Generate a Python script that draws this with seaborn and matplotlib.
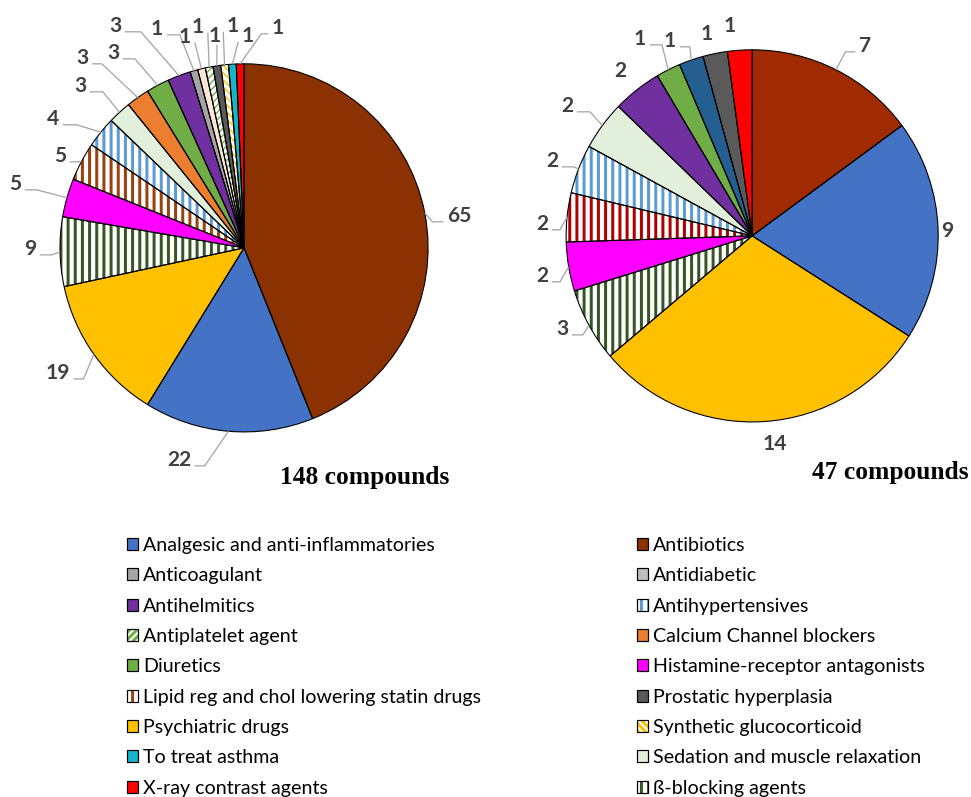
import matplotlib
matplotlib.use("Agg")
import numpy as np
import matplotlib.pyplot as plt
import seaborn as sns
from matplotlib.patches import Patch
from matplotlib.legend_handler import HandlerTuple

# ---------------------------------------------------------------- data
left_classes = [
    "Antibiotics", "Analgesic and anti-inflammatories", "Psychiatric drugs",
    "ß-blocking agents", "Histamine-receptor antagonists",
    "Lipid reg and chol lowering statin drugs", "Antihypertensives",
    "Sedation and muscle relaxation", "Calcium Channel blockers", "Diuretics",
    "Antihelmitics", "Anticoagulant", "Antidiabetic", "Antiplatelet agent",
    "Prostatic hyperplasia", "Synthetic glucocorticoid", "To treat asthma",
    "X-ray contrast agents",
]
left_counts = [65, 22, 19, 9, 5, 5, 4, 3, 3, 3, 3, 1, 1, 1, 1, 1, 1, 1]
left_title = "148 compounds"

right_classes = [
    "Antibiotics", "Analgesic and anti-inflammatories", "Psychiatric drugs",
    "ß-blocking agents", "Histamine-receptor antagonists",
    "Lipid reg and chol lowering statin drugs", "Antihypertensives",
    "Sedation and muscle relaxation", "Antihelmitics", "Diuretics",
    "Antidiabetic", "Prostatic hyperplasia", "X-ray contrast agents",
]
right_counts = [7, 9, 14, 3, 2, 2, 2, 2, 2, 1, 1, 1, 1]
right_title = "47 compounds"

legend_col1 = [
    "Analgesic and anti-inflammatories", "Anticoagulant", "Antihelmitics",
    "Antiplatelet agent", "Diuretics", "Lipid reg and chol lowering statin drugs",
    "Psychiatric drugs", "To treat asthma", "X-ray contrast agents",
]
legend_col2 = [
    "Antibiotics", "Antidiabetic", "Antihypertensives", "Calcium Channel blockers",
    "Histamine-receptor antagonists", "Prostatic hyperplasia",
    "Synthetic glucocorticoid", "Sedation and muscle relaxation", "ß-blocking agents",
]

# ---------------------------------------------------------------- styles
FACE = {
    "Antibiotics": "#8B3102",
    "Analgesic and anti-inflammatories": "#4472C4",
    "Psychiatric drugs": "#FFC000",
    "Histamine-receptor antagonists": "#FF00FF",
    "Sedation and muscle relaxation": "#E2EFDA",
    "Calcium Channel blockers": "#ED7D31",
    "Diuretics": "#70AD47",
    "Antihelmitics": "#7030A0",
    "Anticoagulant": "#A5A5A5",
    "Antidiabetic": "#BFBFBF",
    "Prostatic hyperplasia": "#5A5A5A",
    "To treat asthma": "#17B4C8",
    "X-ray contrast agents": "#FF0000",
}
# patterned classes: hatch pattern and stripe colour on a white ground
HATCH = {
    "ß-blocking agents": ("||", "#375623"),
    "Lipid reg and chol lowering statin drugs": ("||", "#9C4010"),
    "Antihypertensives": ("||", "#5B9BD5"),
    "Antiplatelet agent": ("////", "#70AD47"),
    "Synthetic glucocorticoid": ("\\\\\\\\", "#FFC000"),
}
LEFT_FACE = {"Antidiabetic": "#FBE5D6"}
LEFT_STRIPE = {}
RIGHT_FACE = {"Antibiotics": "#A02B03", "Antidiabetic": "#255E91"}
RIGHT_STRIPE = {"Lipid reg and chol lowering statin drugs": "#B00000"}

# ---------------------------------------------------------------- layout (pixels)
W, H = 971, 797
DPI = 86


def pt(px):
    return px * 72.0 / DPI


LEFT_CENTER, LEFT_R = (244, 248), 184
RIGHT_CENTER, RIGHT_R = (752, 236), 186

# value label placement: text centre x, y, leader side, horizontal leader length
LEFT_LABELS = [
    (459, 215, "R", 11), (179, 459, "L", 10), (58, 372, "L", 10), (30, 248, "L", 12),
    (15, 183, "L", 12), (60, 155, "L", 8), (53, 118, "L", 14), (80, 85, "L", 13),
    (82, 57, "L", 10), (113, 52, "L", 12), (115, 25, "L", 16), (157, 28, "L", 13),
    (185, 36, "L", 0), (198, 26, "L", 0), (215, 35, "B", 0), (233, 25, "R", 0),
    (248, 35, "R", 0), (278, 27, "R", 7),
]
RIGHT_LABELS = [
    (865, 45, "R", 10), (947, 230, None, 0), (775, 443, None, 0), (562, 328, "L", 11),
    (542, 275, "L", 8), (542, 223, "L", 8), (552, 160, "L", 12), (567, 105, "L", 13),
    (620, 70, None, 0), (640, 38, "L", 12), (670, 40, "L", 10), (707, 33, None, 0),
    (730, 25, None, 0),
]

LABEL_COLOR = "#404040"
LEADER_COLOR = "#A6A6A6"
EDGE_PX = 1.1
LABEL_PX = 21

sns.set_theme(style="white", rc={"hatch.linewidth": pt(3.0)})
plt.rcParams["font.family"] = ["Lato", "DejaVu Sans"]

fig = plt.figure(figsize=((W + 0.2) / DPI, (H + 0.2) / DPI), dpi=DPI)
ax = fig.add_axes([0, 0, 1, 1])


def draw_pie(classes, counts, center, radius, face_over, stripe_over, labels):
    cx, cy = center[0], H - center[1]
    faces, hatches, strokes = [], [], []
    for c in classes:
        if c in HATCH:
            pat, sc = HATCH[c]
            faces.append("white")
            hatches.append(pat)
            strokes.append(stripe_over.get(c, sc))
        else:
            f = face_over.get(c, FACE[c])
            faces.append(f)
            hatches.append(None)
            strokes.append(f)
    wedges, _ = ax.pie(counts, colors=faces, startangle=90, counterclock=False,
                       center=(cx, cy), radius=radius,
                       wedgeprops=dict(linewidth=0))
    for w, h, s in zip(wedges, hatches, strokes):
        w.set_edgecolor(s)
        if h:
            w.set_hatch(h)
            if "/" in h or "\\" in h:
                try:
                    w.set_hatch_linewidth(pt(1.4))
                except AttributeError:
                    pass
    # black outlines on top of the fills
    ax.pie(counts, colors=["none"] * len(counts), startangle=90, counterclock=False,
           center=(cx, cy), radius=radius,
           wedgeprops=dict(linewidth=pt(EDGE_PX), edgecolor="black", fill=False))

    for w, v, (tx, ty, side, hlen) in zip(wedges, counts, labels):
        mid = np.deg2rad((w.theta1 + w.theta2) / 2.0)
        wx = cx + radius * np.cos(mid)
        wy = cy + radius * np.sin(mid)
        half = 5.8 * len(str(v))
        if side is not None:
            if side == "L":
                x0, y0 = tx + half + 4, ty + 7
                x1 = x0 + hlen
            elif side == "R":
                x0, y0 = tx - half - 4, ty + 7
                x1 = x0 - hlen
            else:
                x0, y0 = tx + 2, ty + 10
                x1 = x0
            ax.plot([x0, x1, wx], [H - y0, H - y0, wy], color=LEADER_COLOR,
                    lw=pt(1.3), solid_joinstyle="miter", solid_capstyle="butt")
        ax.text(tx, H - (ty + 7), str(v), ha="center", va="baseline",
                fontsize=pt(LABEL_PX), fontweight="bold", color=LABEL_COLOR)


draw_pie(left_classes, left_counts, LEFT_CENTER, LEFT_R, LEFT_FACE, LEFT_STRIPE, LEFT_LABELS)
draw_pie(right_classes, right_counts, RIGHT_CENTER, RIGHT_R, RIGHT_FACE, RIGHT_STRIPE, RIGHT_LABELS)

title_kw = dict(ha="center", va="baseline", fontsize=pt(25.5), fontweight="bold",
                family=["Liberation Serif", "DejaVu Serif"], color="black")
ax.text(365, H - 484, left_title, **title_kw)
ax.text(890, H - 479, right_title, **title_kw)

ax.set_xlim(0, W)
ax.set_ylim(0, H)
ax.set_aspect("auto")
ax.axis("off")


# ---------------------------------------------------------------- legend
def legend_handle(c):
    if c in HATCH:
        pat, sc = HATCH[c]
        fill = Patch(facecolor="white", edgecolor=sc, hatch=pat, linewidth=0)
    else:
        fill = Patch(facecolor=FACE[c], edgecolor=FACE[c], linewidth=0)
    outline = Patch(facecolor="none", edgecolor="black", linewidth=pt(1.2))
    return (fill, outline)


FONT_PX = 19.6
BOX_PX = 11
legend_kw = dict(
    loc="upper left", frameon=False, borderpad=0, borderaxespad=0,
    handlelength=BOX_PX / FONT_PX, handleheight=BOX_PX / FONT_PX,
    handletextpad=5.5 / FONT_PX, labelspacing=0.68,
    prop=dict(family="Lato", size=pt(FONT_PX)),
    handler_map={tuple: HandlerTuple(ndivide=1, pad=0)},
)
leg1 = fig.legend([legend_handle(c) for c in legend_col1], legend_col1,
                  bbox_to_anchor=(126.5 / W, 1 - 537 / H), **legend_kw)
leg2 = fig.legend([legend_handle(c) for c in legend_col2], legend_col2,
                  bbox_to_anchor=(636.5 / W, 1 - 537 / H), **legend_kw)
for leg in (leg1, leg2):
    for t in leg.get_texts():
        t.set_color("black")

fig.savefig("out.png", dpi=DPI, facecolor="white")
